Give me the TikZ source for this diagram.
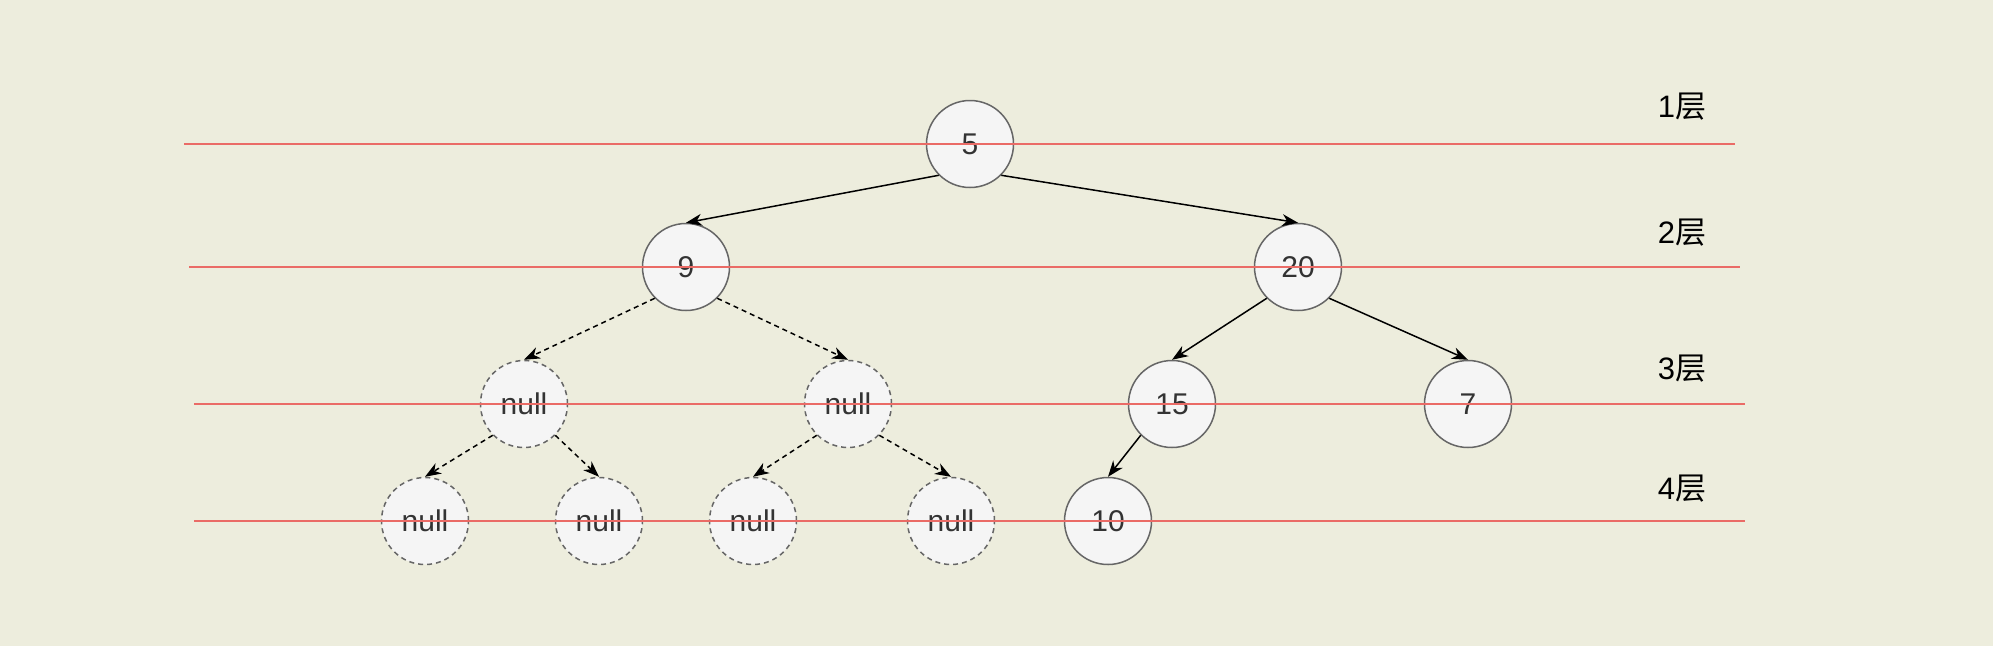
\documentclass[tikz,border=0pt]{standalone}
\usepackage{fontspec}
\setmainfont{Liberation Sans}
\newfontfamily\cjk{Noto Sans CJK SC}
\usepackage{tikz}
\usetikzlibrary{arrows.meta, positioning}
\usepackage{xcolor}
\definecolor{bgcol}{RGB}{237,237,221}
\definecolor{nodefill}{RGB}{245,245,245}
\definecolor{nodeline}{RGB}{102,102,102}
\definecolor{layerred}{RGB}{234,107,102}
\definecolor{nodetext}{RGB}{51,51,51}

\begin{document}
\begin{tikzpicture}[x=1pt,y=-1pt,line width=1.5pt,
    >={Stealth[length=16pt,width=12pt,inset=5pt]}]
  \tikzstyle{treenode}=[circle,draw=nodeline,fill=nodefill,minimum size=87pt,
    inner sep=0pt,text=nodetext,font=\fontsize{30}{35}\selectfont]
  \tikzstyle{nullnode}=[treenode,dash pattern=on 5pt off 4pt]
  \tikzstyle{layerline}=[draw=layerred,line width=2pt]
  \tikzstyle{layerlabel}=[font=\fontsize{31}{36}\selectfont]

  \fill[bgcol] (0,0) rectangle (1993,646);
  \useasboundingbox (0,0) rectangle (1993,646);

  \node[treenode] (n5)  at (970,144)  {5};
  \node[treenode] (n9)  at (686,267)  {9};
  \node[treenode] (n20) at (1298,267) {20};
  \node[nullnode] (null9l) at (524,404) {null};
  \node[nullnode] (null9r) at (848,404) {null};
  \node[treenode] (n15) at (1172,404) {15};
  \node[treenode] (n7)  at (1468,404) {7};
  \node[nullnode] (nullll) at (425,521) {null};
  \node[nullnode] (nulllr) at (599,521) {null};
  \node[nullnode] (nullrl) at (753,521) {null};
  \node[nullnode] (nullrr) at (951,521) {null};
  \node[treenode] (n10) at (1108,521) {10};

  \path[->]
  (n5.south west)  edge (n9.north)
  (n5.south east)  edge (n20.north)
  (n20.south west) edge (n15.north)
  (n20.south east) edge (n7.north)
  (n15.south west) edge (n10.north)
  ;
  \path[->,dash pattern=on 5pt off 4pt]
  (n9.south west)     edge (null9l.north)
  (n9.south east)     edge (null9r.north)
  (null9l.south west) edge (nullll.north)
  (null9l.south east) edge (nulllr.north)
  (null9r.south west) edge (nullrl.north)
  (null9r.south east) edge (nullrr.north)
  ;

  % layer lines
  \draw[layerline] (184,144) -- (1735,144);
  \draw[layerline] (189,267) -- (1740,267);
  \draw[layerline] (194,404) -- (1745,404);
  \draw[layerline] (194,521) -- (1745,521);

  \node[layerlabel] (lab1) at (1682,107) {1{\cjk 层}};
  \node[layerlabel] (lab2) at (1682,233) {2{\cjk 层}};
  \node[layerlabel] (lab3) at (1682,369) {3{\cjk 层}};
  \node[layerlabel] (lab4) at (1682,489) {4{\cjk 层}};
\end{tikzpicture}
\end{document}
